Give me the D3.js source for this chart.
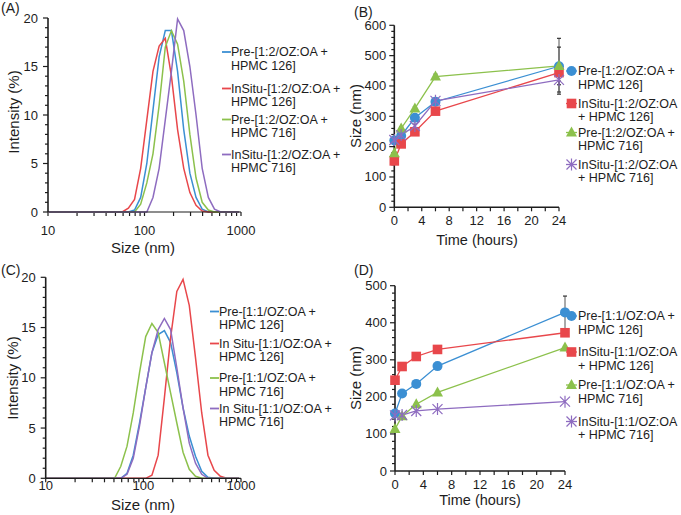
<!DOCTYPE html>
<html>
<head>
<meta charset="utf-8">
<script src="https://cdn.jsdelivr.net/npm/d3@7/dist/d3.min.js"></script>
<style>
  html, body { margin: 0; padding: 0; background: #fff; }
  svg { display: block; font-family: "Liberation Sans", Arial, Helvetica, sans-serif; }
</style>
</head>
<body>
<svg id="chart" width="681" height="515"></svg>
<script>
// ---------------- DATA ----------------
const sizeBins = [10.1, 11.7, 13.54, 15.69, 18.17, 21.04, 24.36, 28.21, 32.67, 37.84, 43.82, 50.75,
  58.77, 68.06, 78.82, 91.28, 105.7, 122.4, 141.8, 164.2, 190.1, 220.2, 255.0, 295.3, 342.0,
  396.1, 458.7, 531.2, 615.1, 712.4, 825.0, 955.4];

// Panel A (1:2 OZ:OA) intensity distributions
const aPre126    = [0,0,0,0,0,0,0,0,0,0,0,0, 0,0,0.2,1.5,5,10.5,16,18.7,18.7,14.5,8.5,4,1.5,0.3,0,0,0,0,0,0];
const aInSitu126 = [0,0,0,0,0,0,0,0,0,0,0,0, 0,0.4,1.3,4.5,9.5,14.5,17.1,17.9,14,8.5,4.5,2,0.7,0.1,0,0,0,0,0,0];
const aPre716    = [0,0,0,0,0,0,0,0,0,0,0,0, 0,0,0,0.8,3,6,11,17,18.7,17.3,13.5,8,3.5,1,0.2,0,0,0,0,0];
const aInSitu716 = [0,0,0,0,0,0,0,0,0,0,0,0, 0,0,0,0,0,1.5,4.5,9.5,14.5,19.9,18.7,15,10,4.5,1.5,0.3,0,0,0,0];

// Panel C (1:1 OZ:OA) intensity distributions
const cPre126    = [0,0,0,0,0,0,0,0,0,0,0,0, 0,0.5,2.3,5.5,9,12.5,14.3,14.7,13.5,10.5,7,4.2,2.2,0.7,0.1,0,0,0,0,0];
const cInSitu126 = [0,0,0,0,0,0,0,0,0,0,0,0, 0,0,0,0,0,0.3,2.3,8,14,18.6,19.8,17.2,12,6.5,2.3,0.8,0.2,0,0,0];
const cPre716    = [0,0,0,0,0,0,0,0,0,0,0,0, 1.2,3.2,6.5,10.5,14.1,15.4,14.5,11.5,8.5,5.5,2.6,0.9,0.2,0,0,0,0,0,0,0];
const cInSitu716 = [0,0,0,0,0,0,0,0,0,0,0,0, 0,0.4,2,5.2,9,12.5,14.8,15.9,14.8,11,7,3.5,1.5,0.4,0,0,0,0,0,0];

// Panel B / D time courses
const times = [0, 1, 3, 6, 24];
const bPre126    = [220, 236, 295, 348, 465];
const bInSitu126 = [153, 209, 249, 317, 444];
const bPre716    = [178, 260, 326, 431, 466];
const bInSitu716 = [222, 238, 268, 351, 420];
const bErrPre126    = [6, 6, 8, 8, 92];
const bErrInSitu126 = [5, 5, 6, 8, 28];
const bErrPre716    = [5, 6, 6, 8, 62];
const bErrInSitu716 = [5, 5, 6, 8, 40];

const dPre126    = [155, 209, 235, 283, 428];
const dInSitu126 = [245, 282, 309, 328, 373];
const dPre716    = [113, 148, 180, 212, 333];
const dInSitu716 = [150, 151, 162, 167, 187];
const dErrPre126 = [6, 6, 6, 6, 44];

// Labels
const legendA = [["Pre-[1:2/OZ:OA +", "HPMC 126]"], ["InSitu-[1:2/OZ:OA +", "HPMC 126]"],
                 ["Pre-[1:2/OZ:OA +", "HPMC 716]"], ["InSitu-[1:2/OZ:OA +", "HPMC 716]"]];
const legendB = [["Pre-[1:2/OZ:OA +", "HPMC 126]"], ["InSitu-[1:2/OZ:OA", "+ HPMC 126]"],
                 ["Pre-[1:2/OZ:OA +", "HPMC 716]"], ["InSitu-[1:2/OZ:OA", "+ HPMC 716]"]];
const legendC = [["Pre-[1:1/OZ:OA +", "HPMC 126]"], ["In Situ-[1:1/OZ:OA +", "HPMC 126]"],
                 ["Pre-[1:1/OZ:OA +", "HPMC 716]"], ["In Situ-[1:1/OZ:OA +", "HPMC 716]"]];
const legendD = [["Pre-[1:1/OZ:OA +", "HPMC 126]"], ["InSitu-[1:1/OZ:OA", "+ HPMC 126]"],
                 ["Pre-[1:1/OZ:OA +", "HPMC 716]"], ["InSitu-[1:1/OZ:OA", "+ HPMC 716]"]];

const logTicks = [10, 100, 1000];
const intensityTicks = [0, 5, 10, 15, 20];
const timeTicks = [0, 4, 8, 12, 16, 20, 24];
const sizeTicksB = [0, 100, 200, 300, 400, 500, 600];
const sizeTicksD = [0, 100, 200, 300, 400, 500];

const colors = ["#3b8fd3", "#e8474b", "#8cc14c", "#8e6cc0"];

// ---------------- DRAW ----------------
const svg = d3.select("#chart");
const ink = "#1d1d1d";

function txt(x, y, s, size, anchor, opts = {}) {
  const t = svg.append("text").attr("x", x).attr("y", y).text(s)
    .attr("font-size", size).attr("fill", ink)
    .attr("text-anchor", anchor || "start")
    .attr("dominant-baseline", "central");
  if (opts.rotate) t.attr("transform", `rotate(-90 ${x} ${y})`);
  return t;
}

function logPanel(cfg) {
  const x = d3.scaleLog().domain([10, 1000]).range(cfg.xr);
  const y = d3.scaleLinear().domain([0, 20]).range(cfg.yr);
  const g = svg.append("g");
  const y0 = y(0), x0 = x(10);
  d3.range(0, 21, 1).forEach(v => {
    const major = v % 5 === 0;
    g.append("line").attr("x1", x0 - (major ? 5 : 3)).attr("x2", x0)
      .attr("y1", y(v)).attr("y2", y(v)).attr("stroke", ink).attr("stroke-width", 1.2);
  });
  const minor = [];
  [10, 100].forEach(d => { for (let k = 1; k <= 10; k++) minor.push(d * k); });
  Array.from(new Set(minor)).forEach(v => {
    g.append("line").attr("x1", x(v)).attr("x2", x(v)).attr("y1", y0).attr("y2", y0 + 4)
      .attr("stroke", ink).attr("stroke-width", 1.2);
  });
  const line = d3.line().x((d, i) => x(sizeBins[i])).y(d => y(d));
  cfg.series.forEach((s, i) => {
    g.append("path").datum(s).attr("d", line).attr("fill", "none")
      .attr("stroke", colors[i]).attr("stroke-width", 1.5);
  });
  g.append("line").attr("x1", x0).attr("x2", x0).attr("y1", y(20)).attr("y2", y0)
    .attr("stroke", ink).attr("stroke-width", 1.6);
  g.append("line").attr("x1", x0).attr("x2", x(1000)).attr("y1", y0).attr("y2", y0)
    .attr("stroke", ink).attr("stroke-width", 1.2);
  intensityTicks.forEach(v => txt(x0 - 10, y(v), String(v), 13, "end"));
  logTicks.forEach(v => txt(x(v), y0 + cfg.xLabDy, String(v), 13, "middle"));
  txt(cfg.xTitle[0], cfg.xTitle[1], "Size (nm)", 15, "middle");
  txt(cfg.yTitle[0], cfg.yTitle[1], "Intensity (%)", 15, "middle", { rotate: true });
  txt(cfg.tag[0], cfg.tag[1], cfg.tagText, 14, "start");
  cfg.legend.forEach((lab, i) => {
    const ly = cfg.legY[i];
    g.append("line").attr("x1", cfg.legX - 9).attr("x2", cfg.legX).attr("y1", ly).attr("y2", ly)
      .attr("stroke", colors[i]).attr("stroke-width", 1.8);
    txt(cfg.legX, ly, lab[0], 12.5, "start");
    txt(cfg.legX, ly + 13.5, lab[1], 12.5, "start");
  });
}

function marker(g, type, cx, cy, color) {
  if (type === 0) {
    g.append("circle").attr("cx", cx).attr("cy", cy).attr("r", 5).attr("fill", color);
  } else if (type === 1) {
    g.append("rect").attr("x", cx - 4.8).attr("y", cy - 4.8).attr("width", 9.6).attr("height", 9.6).attr("fill", color);
  } else if (type === 2) {
    g.append("path").attr("d", `M${cx},${cy - 6} L${cx + 5.5},${cy + 4} L${cx - 5.5},${cy + 4} Z`).attr("fill", color);
  } else {
    const r = 5;
    g.append("path").attr("d",
      `M${cx - r},${cy - r} L${cx + r},${cy + r} M${cx - r},${cy + r} L${cx + r},${cy - r} M${cx},${cy - r - 1} L${cx},${cy + r + 1}`)
      .attr("stroke", color).attr("stroke-width", 1.2).attr("fill", "none");
  }
}

function timePanel(cfg) {
  const x = d3.scaleLinear().domain([0, 24]).range(cfg.xr);
  const y = d3.scaleLinear().domain([0, cfg.ymax]).range(cfg.yr);
  const g = svg.append("g");
  const x0 = x(0), y0 = y(0);
  d3.range(0, cfg.ymax + 1, 20).forEach(v => {
    const major = v % 100 === 0;
    g.append("line").attr("x1", x0 - (major ? 5 : 3)).attr("x2", x0).attr("y1", y(v)).attr("y2", y(v))
      .attr("stroke", ink).attr("stroke-width", 1.2);
  });
  d3.range(0, 25, 2).forEach(v => {
    g.append("line").attr("x1", x(v)).attr("x2", x(v)).attr("y1", y0).attr("y2", y0 + 4)
      .attr("stroke", ink).attr("stroke-width", 1.2);
  });
  g.append("line").attr("x1", x0).attr("x2", x0).attr("y1", y(cfg.ymax)).attr("y2", y0)
    .attr("stroke", ink).attr("stroke-width", 1.6);
  g.append("line").attr("x1", x0).attr("x2", x(24)).attr("y1", y0).attr("y2", y0)
    .attr("stroke", ink).attr("stroke-width", 1.6);
  cfg.errors.forEach(([si, errs]) => {
    errs.forEach((e, i) => {
      const v = cfg.series[si][i], cx = x(times[i]);
      g.append("line").attr("x1", cx).attr("x2", cx).attr("y1", y(v + e)).attr("y2", y(v - e))
        .attr("stroke", "#555").attr("stroke-width", 1);
      [v + e, v - e].forEach(w => g.append("line").attr("x1", cx - 2).attr("x2", cx + 2)
        .attr("y1", y(w)).attr("y2", y(w)).attr("stroke", "#333").attr("stroke-width", 1.2));
    });
  });
  const line = d3.line().x((d, i) => x(times[i])).y(d => y(d));
  cfg.series.forEach((s, i) => {
    g.append("path").datum(s).attr("d", line).attr("fill", "none")
      .attr("stroke", colors[i]).attr("stroke-width", 1.3);
  });
  cfg.series.forEach((s, i) => s.forEach((v, j) => marker(g, i, x(times[j]), y(v), colors[i])));
  cfg.yTicks.forEach(v => txt(x0 - 8, y(v), String(v), 13, "end"));
  timeTicks.forEach(v => txt(x(v), y0 + 13.5, String(v), 13, "middle"));
  txt(cfg.xTitle[0], cfg.xTitle[1], "Time (hours)", 14.5, "middle");
  txt(cfg.yTitle[0], cfg.yTitle[1], "Size (nm)", 15, "middle", { rotate: true });
  txt(cfg.tag[0], cfg.tag[1], cfg.tagText, 14, "start");
  cfg.legend.forEach((lab, i) => {
    const ly = cfg.legY[i];
    g.append("line").attr("x1", cfg.legX - 11).attr("x2", cfg.legX).attr("y1", ly).attr("y2", ly)
      .attr("stroke", colors[i]).attr("stroke-width", 1.3);
    marker(g, i, cfg.legX - 5.5, ly, colors[i]);
    txt(cfg.legX + 1, ly, lab[0], 12.5, "start");
    txt(cfg.legX + 1, ly + 13.5, lab[1], 12.5, "start");
  });
}

logPanel({
  xr: [48, 241], yr: [212, 18], series: [aPre126, aInSitu126, aPre716, aInSitu716],
  xLabDy: 18, xTitle: [143, 247], yTitle: [13, 112], tag: [1, 8], tagText: "(A)",
  legend: legendA, legX: 231, legY: [52, 88.5, 119.5, 154.5]
});
logPanel({
  xr: [45.7, 241], yr: [478.3, 277.3], series: [cPre126, cInSitu126, cPre716, cInSitu716],
  xLabDy: 7.5, xTitle: [143, 504], yTitle: [12, 378], tag: [1, 270], tagText: "(C)",
  legend: legendC, legX: 219, legY: [311.5, 343.5, 378, 408.5]
});
timePanel({
  xr: [394.3, 559], yr: [207.3, 25.3], ymax: 600, yTicks: sizeTicksB,
  series: [bPre126, bInSitu126, bPre716, bInSitu716],
  errors: [[0, bErrPre126], [1, bErrInSitu126], [2, bErrPre716], [3, bErrInSitu716]],
  xTitle: [477, 240], yTitle: [355, 116], tag: [354, 12], tagText: "(B)",
  legend: legendB, legX: 577, legY: [71, 103.5, 132.5, 164.5]
});
timePanel({
  xr: [395, 565], yr: [471, 285.7], ymax: 500, yTicks: sizeTicksD,
  series: [dPre126, dInSitu126, dPre716, dInSitu716],
  errors: [[0, dErrPre126]],
  xTitle: [480, 500], yTitle: [355, 378], tag: [354, 270], tagText: "(D)",
  legend: legendD, legX: 577, legY: [316, 352, 385, 421.5]
});
</script>
</body>
</html>
